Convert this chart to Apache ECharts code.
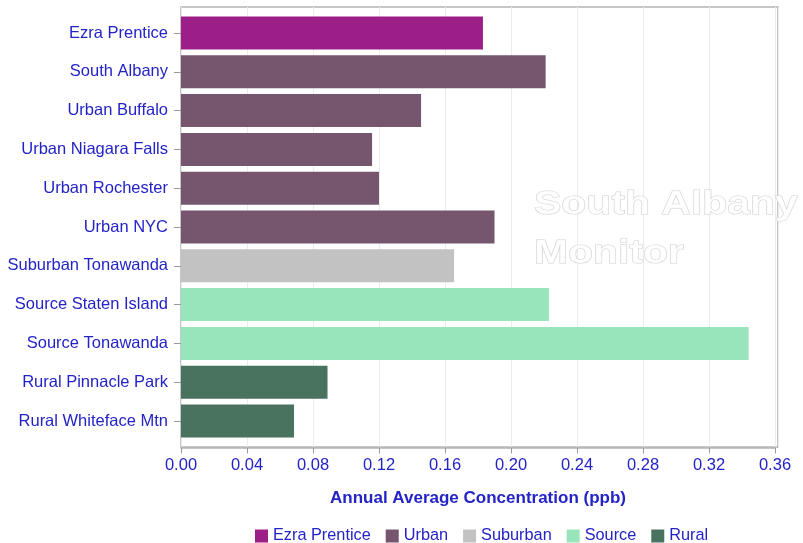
<!DOCTYPE html>
<html><head><meta charset="utf-8">
<script src="https://cdn.jsdelivr.net/npm/echarts@6/dist/echarts.min.js"></script>
<style>html,body{margin:0;padding:0;background:#fff}#c{width:803px;height:543px}</style>
</head><body><div id="c"></div>
<script>
const categories = ['Ezra Prentice','South Albany','Urban Buffalo','Urban Niagara Falls','Urban Rochester','Urban NYC','Suburban Tonawanda','Source Staten Island','Source Tonawanda','Rural Pinnacle Park','Rural Whiteface Mtn'];
const values = [0.183, 0.221, 0.1455, 0.1158, 0.120, 0.190, 0.1655, 0.223, 0.344, 0.0888, 0.0685];
const groups = ['Ezra Prentice','Urban','Urban','Urban','Urban','Urban','Suburban','Source','Source','Rural','Rural'];
const groupNames = ['Ezra Prentice','Urban','Suburban','Source','Rural'];
const groupColors = ['#9b1f87','#76566f','#c2c2c2','#98e4bb','#4a735f'];
const xMin = 0, xMax = 0.36, xInterval = 0.04;
const xTitle = 'Annual Average Concentration (ppb)';
const watermarkLines = ['South Albany','Monitor'];

const BLUE = '#2323c8';
const FONT = '"Liberation Sans", Arial, sans-serif';

const series = groupNames.map((g, gi) => ({
  name: g,
  type: 'bar',
  stack: 'all',
  xAxisIndex: 0, yAxisIndex: 0,
  barWidth: '85%',
  itemStyle: { color: groupColors[gi] },
  data: values.map((v, i) => groups[i] === g ? v : '-')
}));

const chart = echarts.init(document.getElementById('c'), null, {renderer: 'canvas'});
chart.setOption({
  animation: false,
  backgroundColor: '#fff',
  grid: [
    { left: 181, right: 28, top: 13.6, bottom: 102.6, outerBoundsMode: 'none', containLabel: false },
    { left: 181, right: 25, top: 7, bottom: 96, outerBoundsMode: 'none', containLabel: false,
      show: true, borderColor: '#b4b4b4', borderWidth: 1.5, backgroundColor: 'transparent', z: 0 }
  ],
  xAxis: [
    { type: 'value', gridIndex: 0, min: xMin, max: xMax, interval: xInterval, offset: 7,
      axisLine: { show: true, lineStyle: { color: '#b4b4b4', width: 1.5 } },
      axisTick: { show: true, length: 6, lineStyle: { color: '#999' } },
      axisLabel: { color: BLUE, fontFamily: FONT, fontSize: 16.5, margin: 10,
        formatter: v => v.toFixed(2) },
      splitLine: { show: false },
      name: xTitle, nameLocation: 'middle', nameGap: 42,
      nameTextStyle: { color: BLUE, fontFamily: FONT, fontSize: 17, fontWeight: 'bold' } },
    { type: 'value', gridIndex: 1, min: xMin, max: xMax * 597 / 594, interval: xInterval,
      axisLine: { show: false }, axisTick: { show: false }, axisLabel: { show: false },
      splitLine: { show: true, lineStyle: { color: '#ececec', width: 1 } } }
  ],
  yAxis: [
    { type: 'category', gridIndex: 0, data: categories, inverse: true,
      axisLine: { show: false },
      axisTick: { show: true, alignWithLabel: true, length: 7, lineStyle: { color: '#999' } },
      axisLabel: { color: BLUE, fontFamily: FONT, fontSize: 16.5, margin: 13, interval: 0 } },
    { type: 'value', gridIndex: 1, show: false }
  ],
  legend: {
    data: groupNames, left: 250, top: 523, icon: 'rect', itemWidth: 13, itemHeight: 13,
    itemGap: 15, textStyle: { color: BLUE, fontFamily: FONT, fontSize: 16.3 }
  },
  graphic: watermarkLines.map((t, i) => ({
    type: 'text', x: 534, y: 205 + i * 49, scaleX: 1.24, z: 100,
    style: { text: t, fill: 'rgba(255,255,255,0.85)', stroke: '#d2d2d2', lineWidth: 1,
      font: 'bold 33px ' + FONT, align: 'left', verticalAlign: 'middle' }
  })),
  series: series
});
</script></body></html>
